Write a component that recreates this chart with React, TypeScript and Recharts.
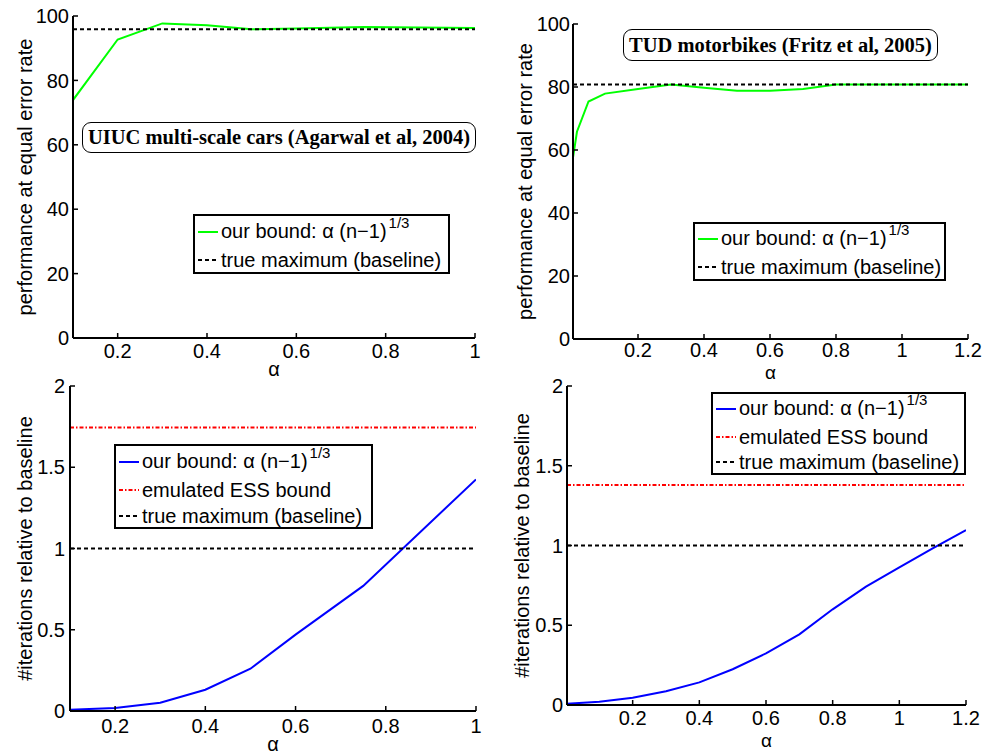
import React from 'react';
import { LineChart, Line, XAxis, YAxis } from 'recharts';

// ---------- data ----------
const UIUC_ALPHA = [0.1, 0.2, 0.3, 0.4, 0.5, 0.6, 0.75, 1.0];
const UIUC_PERF = [73.9, 92.7, 97.7, 97.1, 95.9, 96.1, 96.6, 96.3];
const UIUC_BASELINE_PERF = 95.9;
const UIUC_ITER = [0.008, 0.018, 0.051, 0.131, 0.26, 0.47, 0.77, 1.425];
const UIUC_ESS = 1.745;
const UIUC_BASELINE_ITER = 1.0;

const TUD_ALPHA_PERF = [0.003, 0.015, 0.05, 0.1, 0.2, 0.3, 0.4, 0.5, 0.6, 0.7, 0.8, 1.0, 1.2];
const TUD_PERF = [57.6, 65.8, 75.4, 77.9, 79.4, 80.8, 79.8, 78.8, 78.8, 79.4, 80.8, 80.8, 80.8];
const TUD_BASELINE_PERF = 80.8;
const TUD_ALPHA_ITER = [0.003, 0.1, 0.2, 0.3, 0.4, 0.5, 0.6, 0.7, 0.8, 0.9, 1.0, 1.1, 1.2];
const TUD_ITER = [0.008, 0.02, 0.046, 0.086, 0.142, 0.224, 0.324, 0.443, 0.6, 0.742, 0.863, 0.982, 1.097];
const TUD_ESS = 1.38;
const TUD_BASELINE_ITER = 1.0;

const UIUC_X_DOMAIN = [0.1, 1];
const TUD_X_DOMAIN = [0.003, 1.2];
const UIUC_X_TICKS = [0.2, 0.4, 0.6, 0.8, 1];
const TUD_X_TICKS = [0.2, 0.4, 0.6, 0.8, 1, 1.2];
const PERF_Y_DOMAIN = [0, 100];
const PERF_Y_TICKS = [0, 20, 40, 60, 80, 100];
const ITER_Y_DOMAIN = [0, 2];
const ITER_Y_TICKS = [0, 0.5, 1, 1.5, 2];

const PERF_LABEL = 'performance at equal error rate';
const ITER_LABEL = '#iterations relative to baseline';
const X_LABEL = 'α';
const UIUC_TITLE = 'UIUC multi-scale cars (Agarwal et al, 2004)';
const TUD_TITLE = 'TUD motorbikes (Fritz et al, 2005)';
const BOUND_LABEL = 'our bound: α (n−1)';
const ESS_LABEL = 'emulated ESS bound';
const BASE_LABEL = 'true maximum (baseline)';

const SANS = '"Liberation Sans", Arial, Helvetica, sans-serif';
const SERIF = '"Liberation Serif", "Times New Roman", serif';

const STYLES: Record<string, { stroke: string; dash?: string; width: number }> = {
  green: { stroke: '#00ff00', width: 2 },
  blue: { stroke: '#0000ff', width: 2 },
  red: { stroke: '#ff0000', dash: '4 2 1.5 2', width: 2 },
  black: { stroke: '#000000', dash: '4 3', width: 2 },
};

const zip = (xs: number[], ys: number[]) => xs.map((x, i) => ({ x, y: ys[i] }));
const flat = (dom: number[], v: number) => [{ x: dom[0], y: v }, { x: dom[1], y: v }];

type Series = { kind: string; data: { x: number; y: number }[] };

type PanelProps = {
  left: number; top: number; width: number; height: number;
  margin: { top: number; right: number; left: number; bottom: number };
  yAxisWidth: number; xAxisHeight: number;
  xDomain: number[]; xTicks: number[]; yDomain: number[]; yTicks: number[];
  yLabel: string; yLabelOffset: number; xLabelOffset: number; xLabelSize: number;
  xTickMargin: number; yTickMargin: number;
  series: Series[];
};

function Panel(p: PanelProps) {
  return (
    <div style={{ position: 'absolute', left: p.left, top: p.top }}>
      <LineChart width={p.width} height={p.height} margin={p.margin}>
        <XAxis
          type="number"
          dataKey="x"
          domain={p.xDomain}
          ticks={p.xTicks}
          interval={0}
          allowDataOverflow
          height={p.xAxisHeight}
          tickSize={-5}
          tickMargin={p.xTickMargin}
          axisLine={{ stroke: '#000', strokeWidth: 2 }}
          tickLine={{ stroke: '#000', strokeWidth: 1.5 }}
          tick={{ fill: '#000', fontSize: 20, fontFamily: SANS }}
          label={{ value: X_LABEL, position: 'insideBottom', offset: p.xLabelOffset, fill: '#000', fontSize: p.xLabelSize, fontFamily: SANS }}
        />
        <YAxis
          type="number"
          domain={p.yDomain}
          ticks={p.yTicks}
          interval={0}
          allowDataOverflow
          width={p.yAxisWidth}
          tickSize={-5}
          tickMargin={p.yTickMargin}
          axisLine={{ stroke: '#000', strokeWidth: 2 }}
          tickLine={{ stroke: '#000', strokeWidth: 1.5 }}
          tick={{ fill: '#000', fontSize: 20, fontFamily: SANS }}
          label={{
            value: p.yLabel, angle: -90, position: 'insideLeft', offset: p.yLabelOffset,
            fill: '#000', fontSize: 20, fontFamily: SANS, style: { textAnchor: 'middle' },
          }}
        />
        {p.series.map((s, i) => {
          const st = STYLES[s.kind];
          return (
            <Line
              key={i}
              data={s.data}
              dataKey="y"
              type="linear"
              stroke={st.stroke}
              strokeWidth={st.width}
              strokeDasharray={st.dash}
              dot={false}
              activeDot={false}
              isAnimationActive={false}
            />
          );
        })}
      </LineChart>
    </div>
  );
}

function Sample({ kind }: { kind: string }) {
  const st = STYLES[kind];
  return (
    <svg width={20} height={4} style={{ display: 'block' }}>
      <line x1={0} y1={2} x2={20} y2={2} stroke={st.stroke} strokeWidth={2} strokeDasharray={st.dash} />
    </svg>
  );
}

type Row = { kind: string; label: string; sup?: string; cy: number };

function LegendBox({ left, top, width, height, rows }: { left: number; top: number; width: number; height: number; rows: Row[] }) {
  return (
    <div
      style={{
        position: 'absolute', left, top, width, height, boxSizing: 'border-box',
        border: '2.5px solid #000', background: '#fff', fontFamily: SANS, fontSize: 20, color: '#000',
      }}
    >
      {rows.map((r, i) => (
        <div key={i} style={{ position: 'absolute', left: 3, top: r.cy - 14, height: 24, display: 'flex', alignItems: 'center', whiteSpace: 'nowrap' }}>
          <Sample kind={r.kind} />
          <span style={{ marginLeft: 3, lineHeight: '24px' }}>
            {r.label}
            {r.sup ? <span style={{ fontSize: 15, position: 'relative', top: -10, marginLeft: 2 }}>{r.sup}</span> : null}
          </span>
        </div>
      ))}
    </div>
  );
}

function TitleBox({ left, top, width, height, text }: { left: number; top: number; width: number; height: number; text: string }) {
  return (
    <div
      style={{
        position: 'absolute', left, top, width, height, boxSizing: 'border-box',
        border: '1px solid #000', borderRadius: 9, background: '#fff',
        fontFamily: SERIF, fontWeight: 'bold', fontSize: 20.5, color: '#000',
        display: 'flex', alignItems: 'center', justifyContent: 'center', whiteSpace: 'nowrap',
      }}
    >
      {text}
    </div>
  );
}

export default function App() {
  return (
    <div style={{ position: 'absolute', left: 0, top: 0, width: 993, height: 754, background: '#fff', overflow: 'hidden' }}>
      {/* top-left */}
      <Panel
        left={0} top={0} width={490} height={385}
        margin={{ top: 16, right: 15, left: 0, bottom: 0 }}
        yAxisWidth={73} xAxisHeight={47}
        xDomain={UIUC_X_DOMAIN} xTicks={UIUC_X_TICKS} yDomain={PERF_Y_DOMAIN} yTicks={PERF_Y_TICKS}
        yLabel={PERF_LABEL} yLabelOffset={25} xLabelOffset={9} xLabelSize={20}
        xTickMargin={11} yTickMargin={9}
        series={[
          { kind: 'green', data: zip(UIUC_ALPHA, UIUC_PERF) },
          { kind: 'black', data: flat(UIUC_X_DOMAIN, UIUC_BASELINE_PERF) },
        ]}
      />
      {/* top-right */}
      <Panel
        left={490} top={0} width={503} height={385}
        margin={{ top: 24, right: 25, left: 0, bottom: 0 }}
        yAxisWidth={83} xAxisHeight={46}
        xDomain={TUD_X_DOMAIN} xTicks={TUD_X_TICKS} yDomain={PERF_Y_DOMAIN} yTicks={PERF_Y_TICKS}
        yLabel={PERF_LABEL} yLabelOffset={35} xLabelOffset={6} xLabelSize={19}
        xTickMargin={9} yTickMargin={8}
        series={[
          { kind: 'green', data: zip(TUD_ALPHA_PERF, TUD_PERF) },
          { kind: 'black', data: flat(TUD_X_DOMAIN, TUD_BASELINE_PERF) },
        ]}
      />
      {/* bottom-left */}
      <Panel
        left={0} top={370} width={490} height={384}
        margin={{ top: 16, right: 14, left: 0, bottom: 0 }}
        yAxisWidth={70} xAxisHeight={43}
        xDomain={UIUC_X_DOMAIN} xTicks={UIUC_X_TICKS} yDomain={ITER_Y_DOMAIN} yTicks={ITER_Y_TICKS}
        yLabel={ITER_LABEL} yLabelOffset={25} xLabelOffset={3} xLabelSize={20}
        xTickMargin={13} yTickMargin={10}
        series={[
          { kind: 'blue', data: zip(UIUC_ALPHA, UIUC_ITER) },
          { kind: 'red', data: flat(UIUC_X_DOMAIN, UIUC_ESS) },
          { kind: 'black', data: flat(UIUC_X_DOMAIN, UIUC_BASELINE_ITER) },
        ]}
      />
      {/* bottom-right */}
      <Panel
        left={490} top={370} width={503} height={384}
        margin={{ top: 16, right: 27, left: 0, bottom: 0 }}
        yAxisWidth={77} xAxisHeight={49}
        xDomain={TUD_X_DOMAIN} xTicks={TUD_X_TICKS} yDomain={ITER_Y_DOMAIN} yTicks={ITER_Y_TICKS}
        yLabel={ITER_LABEL} yLabelOffset={32} xLabelOffset={7} xLabelSize={19}
        xTickMargin={11} yTickMargin={9}
        series={[
          { kind: 'blue', data: zip(TUD_ALPHA_ITER, TUD_ITER) },
          { kind: 'red', data: flat(TUD_X_DOMAIN, TUD_ESS) },
          { kind: 'black', data: flat(TUD_X_DOMAIN, TUD_BASELINE_ITER) },
        ]}
      />

      <TitleBox left={82} top={122} width={394} height={31} text={UIUC_TITLE} />
      <TitleBox left={623} top={29} width={315} height={32} text={TUD_TITLE} />

      <LegendBox left={193} top={214} width={257} height={60} rows={[
        { kind: 'green', label: BOUND_LABEL, sup: '1/3', cy: 18 },
        { kind: 'black', label: BASE_LABEL, cy: 46 },
      ]} />
      <LegendBox left={693} top={222} width={253} height={59} rows={[
        { kind: 'green', label: BOUND_LABEL, sup: '1/3', cy: 17 },
        { kind: 'black', label: BASE_LABEL, cy: 45 },
      ]} />
      <LegendBox left={114} top={444} width={259} height={85} rows={[
        { kind: 'blue', label: BOUND_LABEL, sup: '1/3', cy: 18 },
        { kind: 'red', label: ESS_LABEL, cy: 46 },
        { kind: 'black', label: BASE_LABEL, cy: 72 },
      ]} />
      <LegendBox left={711} top={392} width={255} height={83} rows={[
        { kind: 'blue', label: BOUND_LABEL, sup: '1/3', cy: 17 },
        { kind: 'red', label: ESS_LABEL, cy: 45 },
        { kind: 'black', label: BASE_LABEL, cy: 70 },
      ]} />
    </div>
  );
}
